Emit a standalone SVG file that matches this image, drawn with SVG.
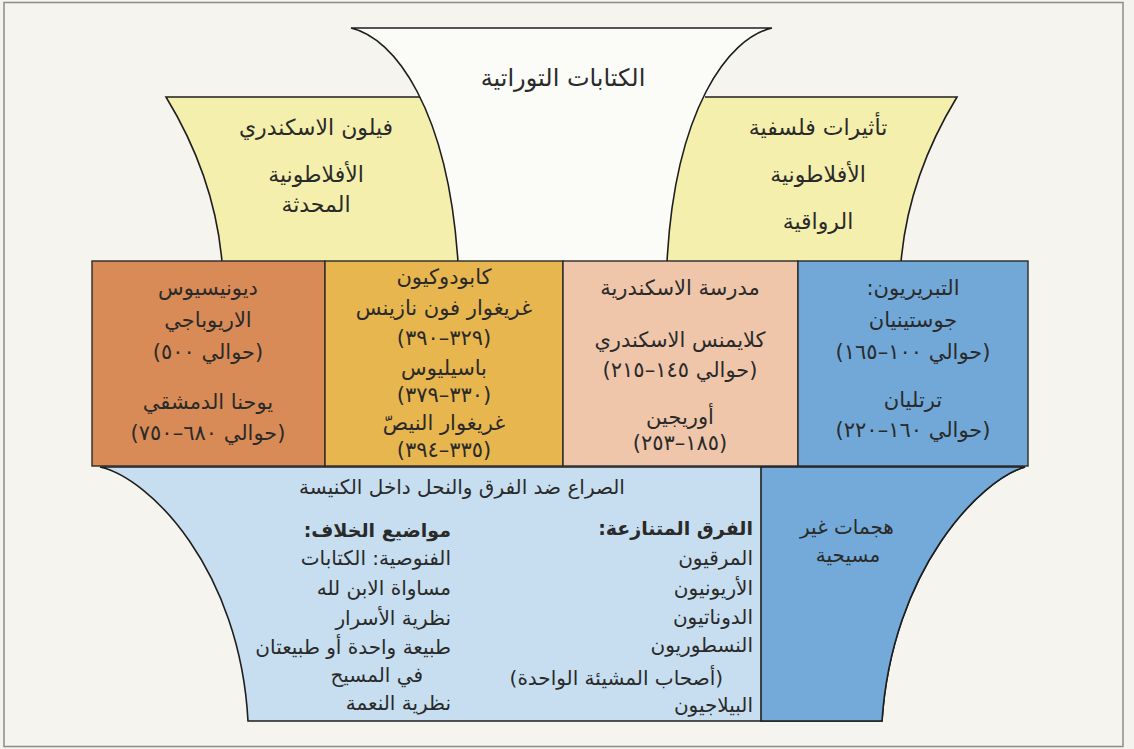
<svg xmlns="http://www.w3.org/2000/svg" width="1134" height="749" viewBox="0 0 1134 749">
<style>
text { font-family: "DejaVu Sans", sans-serif; direction: rtl; fill: #2a2a2a; }
.c { text-anchor: middle; }
.r { text-anchor: start; }
.h { font-size: 24px; }
.t { font-size: 22px; }
.m { font-size: 21px; }
.b { font-size: 20px; }
.bold { font-weight: bold; font-size: 19px; }
.edge { fill: none; stroke: #1e1e1e; stroke-width: 1.6; }
.box { stroke: #2a2a2a; stroke-width: 1.4; }
</style>
<rect x="0" y="0" width="1134" height="749" fill="#f4f3ed"/>
<rect x="4" y="2.5" width="1119" height="744" fill="#f5f4ee" stroke="#8c8c8c" stroke-width="1.5"/>

<g id="node-philo">
  <path d="M166,97 L470,97 L470,262 L222,262 C215,180 180,120 166,97 Z" fill="#f4efac"/>
  <path class="edge" d="M420,97 L166,97 C180,120 215,180 222,262"/>
  <text class="c t" x="316" y="135">فيلون الاسكندري</text>
  <text class="c t" x="316" y="182">الأفلاطونية</text>
  <text class="c t" x="316" y="212">المحدثة</text>
</g>

<g id="node-philosophy">
  <path d="M957,97 L650,97 L650,262 L901,262 C908,180 943,120 957,97 Z" fill="#f4efac"/>
  <path class="edge" d="M705,97 L957,97 C943,120 908,180 901,262"/>
  <text class="c t" x="818" y="135">تأثيرات فلسفية</text>
  <text class="c t" x="818" y="182">الأفلاطونية</text>
  <text class="c t" x="818" y="229">الرواقية</text>
</g>

<g id="node-scripture">
  <path d="M351,28 L772,28 C728,38 675,110 667,262 L458,262 C448,110 395,38 351,28 Z" fill="#fbfbf8"/>
  <path class="edge" d="M458,262 C448,110 395,38 351,28 L772,28 C728,38 675,110 667,262"/>
  <text class="c h" x="563" y="86">الكتابات التوراتية</text>
</g>

<g id="node-church-struggle">
  <path d="M100,467 L1025,467 C980,480 892,570 882,721 L248,721 C240,570 150,478 100,467 Z" fill="#c6def0" stroke="#1e1e1e" stroke-width="1.6"/>
  <text class="c b" x="462" y="494">الصراع ضد الفرق والنحل داخل الكنيسة</text>
  <text class="r bold" x="753" y="535">الفرق المتنازعة:</text>
  <text class="r b" x="753" y="565">المرقيون</text>
  <text class="r b" x="753" y="595">الأريونيون</text>
  <text class="r b" x="753" y="624">الدوناتيون</text>
  <text class="r b" x="753" y="652">النسطوريون</text>
  <text class="r b" x="723" y="685">(أصحاب المشيئة الواحدة)</text>
  <text class="r b" x="753" y="712">البيلاجيون</text>
  <text class="r bold" x="451" y="537">مواضيع الخلاف:</text>
  <text class="r b" x="451" y="565">الفنوصية: الكتابات</text>
  <text class="r b" x="451" y="595">مساواة الابن لله</text>
  <text class="r b" x="451" y="625">نظرية الأسرار</text>
  <text class="r b" x="451" y="654">طبيعة واحدة أو طبيعتان</text>
  <text class="r b" x="423" y="682">في المسيح</text>
  <text class="r b" x="451" y="710">نظرية النعمة</text>
</g>

<g id="node-attacks">
  <path d="M761,467 L1025,467 C980,480 892,570 882,721 L761,721 Z" fill="#73aad9" stroke="#1e1e1e" stroke-width="1.6"/>
  <text class="c b" x="847" y="534">هجمات غير</text>
  <text class="c b" x="848" y="562">مسيحية</text>
</g>

<g id="node-dionysius">
  <rect class="box" x="92" y="261" width="233" height="205" fill="#d98b57"/>
  <text class="c m" x="208" y="295">ديونيسيوس</text>
  <text class="c m" x="208" y="327">الاريوباجي</text>
  <text class="c m" x="208" y="359">(حوالي ٥٠٠)</text>
  <text class="c m" x="208" y="409">يوحنا الدمشقي</text>
  <text class="c m" x="208" y="440">(حوالي ٦٨٠–٧٥٠)</text>
</g>

<g id="node-cappadocians">
  <rect class="box" x="325" y="261" width="238" height="205" fill="#e8b64e"/>
  <text class="c m" x="444" y="284">كابودوكيون</text>
  <text class="c m" x="444" y="315">غريغوار فون نازينس</text>
  <text class="c m" x="444" y="345">(٣٢٩–٣٩٠)</text>
  <text class="c m" x="444" y="375">باسيليوس</text>
  <text class="c m" x="444" y="402">(٣٣٠–٣٧٩)</text>
  <text class="c m" x="444" y="430">غريغوار النيصّ</text>
  <text class="c m" x="444" y="457">(٣٣٥–٣٩٤)</text>
</g>

<g id="node-alexandria">
  <rect class="box" x="563" y="261" width="235" height="205" fill="#efc6aa"/>
  <text class="c m" x="680" y="295">مدرسة الاسكندرية</text>
  <text class="c m" x="680" y="347">كلايمنس الاسكندري</text>
  <text class="c m" x="680" y="377">(حوالي ١٤٥–٢١٥)</text>
  <text class="c m" x="680" y="424">أوريجين</text>
  <text class="c m" x="680" y="450">(١٨٥–٢٥٣)</text>
</g>

<g id="node-apologists">
  <rect class="box" x="798" y="261" width="230" height="205" fill="#71a8d8"/>
  <text class="c m" x="913" y="295">التبريريون:</text>
  <text class="c m" x="913" y="327">جوستينيان</text>
  <text class="c m" x="913" y="359">(حوالي ١٠٠–١٦٥)</text>
  <text class="c m" x="913" y="407">ترتليان</text>
  <text class="c m" x="913" y="437">(حوالي ١٦٠–٢٢٠)</text>
</g>

<g id="connectors"/>
</svg>
